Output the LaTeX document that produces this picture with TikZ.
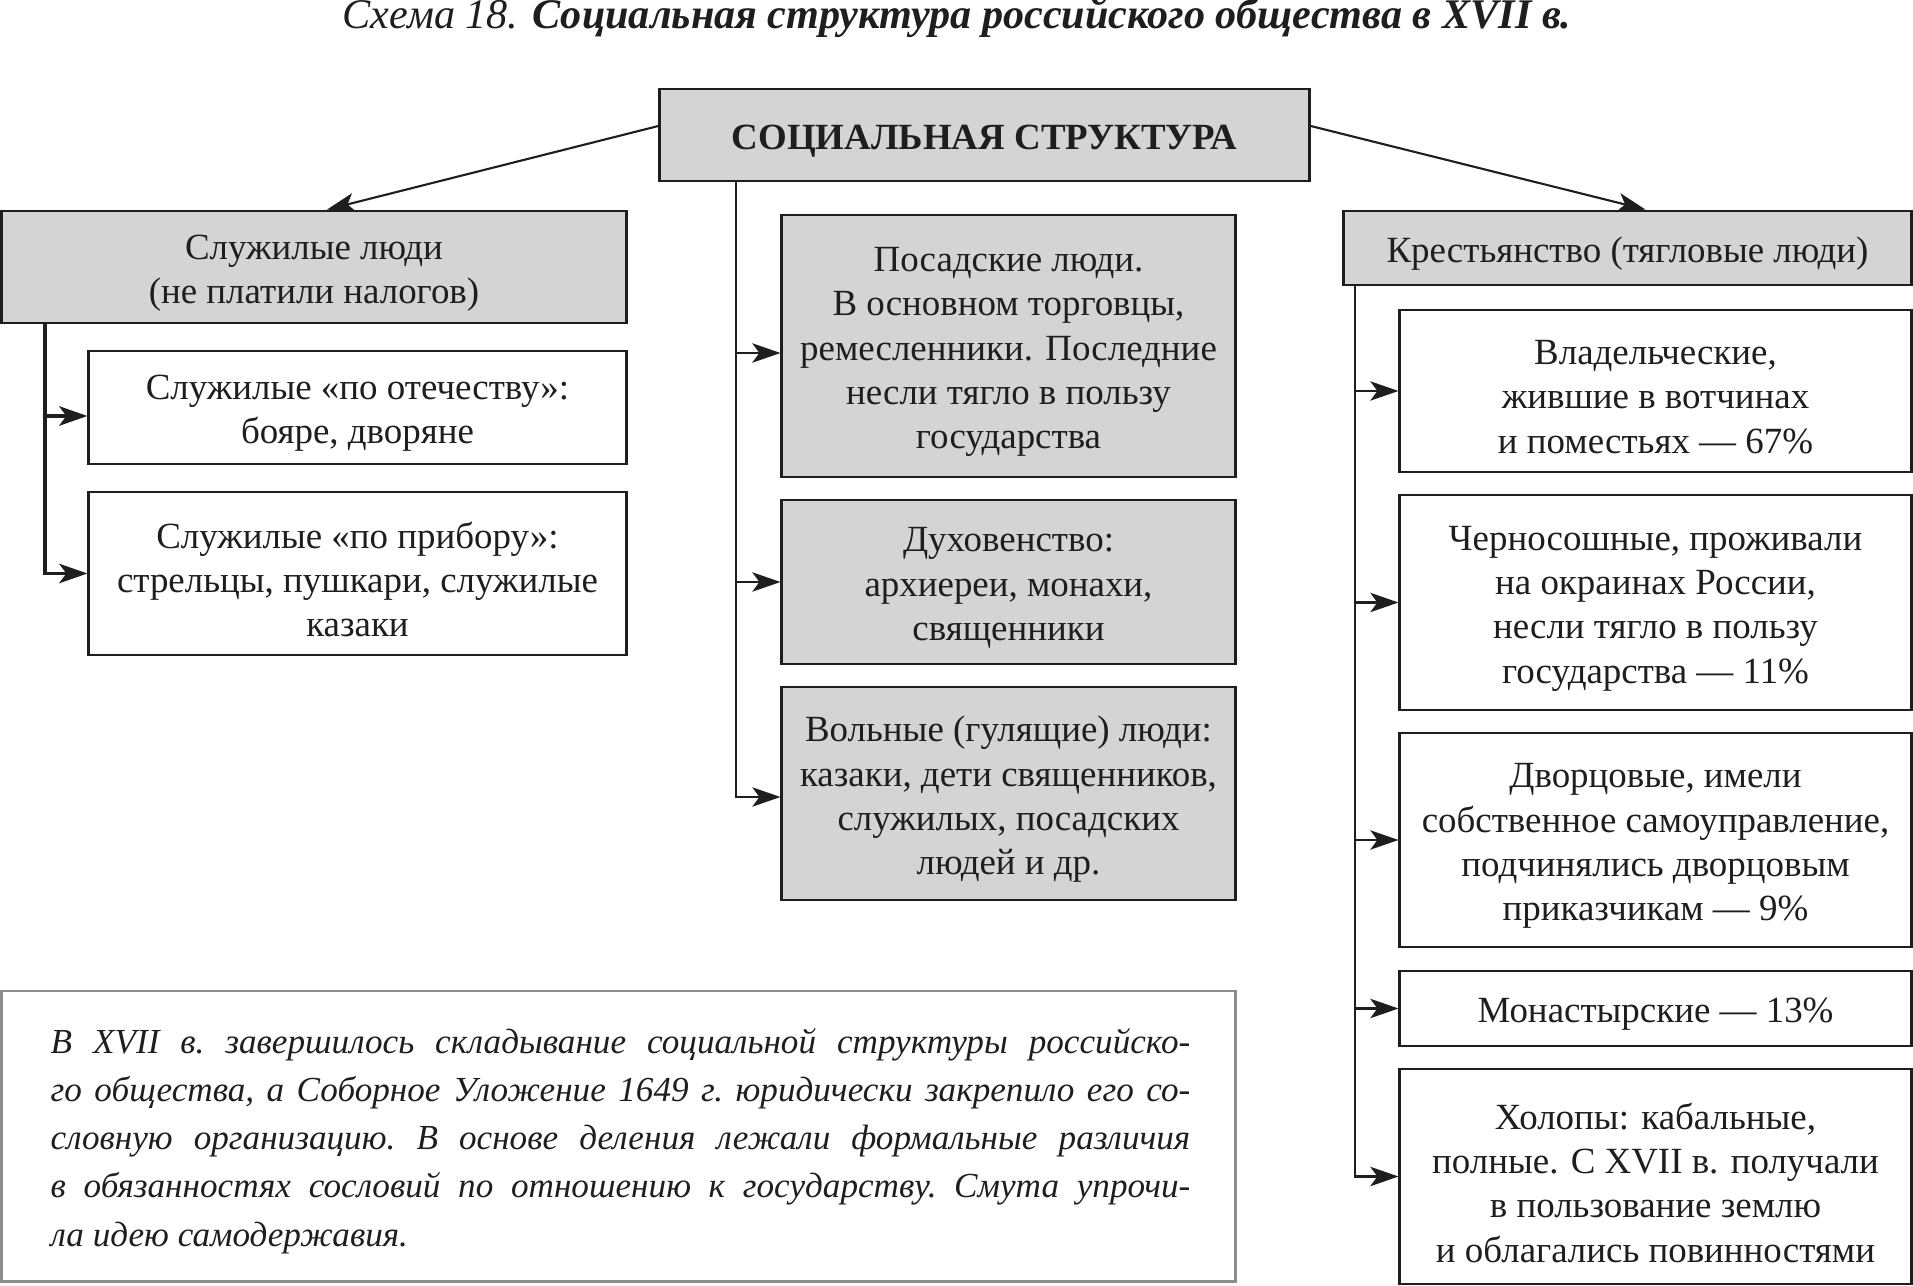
\documentclass[tikz,border=0pt]{standalone}
\usepackage{fontspec}
\setmainfont{Liberation Serif}
\usetikzlibrary{arrows.meta}
\definecolor{boxgray}{RGB}{212,212,212}
\definecolor{ink}{RGB}{30,30,30}
\definecolor{framegray}{RGB}{140,140,140}
\newcommand\boxlabel[2]{\node[txt] (#1t) at ([yshift=-0.06cm]#1.center) {#2};}
\begin{document}
\begin{tikzpicture}[x=0.01cm,y=-0.01cm,
  base/.style={draw=ink, line width=0.8pt, inner sep=0pt},
  graybox/.style={base, fill=boxgray},
  whitebox/.style={base, fill=white},
  txt/.style={text=ink, align=center, inner sep=0pt, font=\fontsize{10.5}{12.6}\selectfont},
  conn/.style={draw=ink, line width=0.6pt},
  arr/.style={conn, -{Stealth[length=8pt,width=5.5pt,inset=2pt]}},
  thickarr/.style={arr, line width=1.1pt}]
\useasboundingbox (0,0) rectangle (1913,1286);

% title
\node[font=\itshape\fontsize{12}{14}\selectfont, text=ink, inner sep=0pt] (title) at (957,18)
  {Схема 18. \textbf{Социальная структура российского общества в XVII~в.}};

% top
\node[graybox, minimum width=6.49cm, minimum height=0.92cm] (top) at (984.5,135) {};
\node[txt, font=\bfseries\fontsize{10.5}{12.6}\selectfont] (topt) at ([yshift=-0.06cm]top.center) {СОЦИАЛЬНАЯ СТРУКТУРА};

% left column
\node[graybox, minimum width=6.24cm, minimum height=1.12cm] (L0) at (314,267) {};
\boxlabel{L0}{Служилые люди\\(не платили налогов)}
\node[whitebox, minimum width=5.37cm, minimum height=1.13cm] (L1) at (357.5,407.5) {};
\boxlabel{L1}{Служилые «по отечеству»:\\бояре, дворяне}
\node[whitebox, minimum width=5.37cm, minimum height=1.63cm] (L2) at (357.5,573.5) {};
\boxlabel{L2}{Служилые «по прибору»:\\стрельцы, пушкари, служилые\\казаки}

% middle column
\node[graybox, minimum width=4.53cm, minimum height=2.62cm] (M1) at (1008.5,346) {};
\boxlabel{M1}{Посадские люди.\\В основном торговцы,\\ремесленники. Последние\\несли тягло в пользу\\государства}
\node[graybox, minimum width=4.53cm, minimum height=1.64cm] (M2) at (1008.5,582) {};
\boxlabel{M2}{Духовенство:\\архиереи, монахи,\\священники}
\node[graybox, minimum width=4.53cm, minimum height=2.13cm] (M3) at (1008.5,793.5) {};
\boxlabel{M3}{Вольные (гулящие) люди:\\казаки, дети священников,\\служилых, посадских\\людей и др.}

% right column
\node[graybox, minimum width=5.67cm, minimum height=0.74cm] (R0) at (1627.5,248) {};
\boxlabel{R0}{Крестьянство (тягловые люди)}
\node[whitebox, minimum width=5.11cm, minimum height=1.62cm] (R1) at (1655.5,391) {};
\boxlabel{R1}{Владельческие,\\жившие в вотчинах\\и поместьях — 67\%}
\node[whitebox, minimum width=5.11cm, minimum height=2.15cm] (R2) at (1655.5,602.5) {};
\boxlabel{R2}{Черносошные, проживали\\на окраинах России,\\несли тягло в пользу\\государства — 11\%}
\node[whitebox, minimum width=5.11cm, minimum height=2.14cm] (R3) at (1655.5,840) {};
\boxlabel{R3}{Дворцовые, имели\\собственное самоуправление,\\подчинялись дворцовым\\приказчикам — 9\%}
\node[whitebox, minimum width=5.11cm, minimum height=0.75cm] (R4) at (1655.5,1008.5) {};
\boxlabel{R4}{Монастырские — 13\%}
\node[whitebox, minimum width=5.11cm, minimum height=2.15cm] (R5) at (1655.5,1176.5) {};
\boxlabel{R5}{Холопы: кабальные,\\полные. С XVII в. получали\\в пользование землю\\и облагались повинностями}

% note box
\node[draw=framegray, line width=0.8pt, minimum width=12.34cm, minimum height=2.90cm, inner sep=0pt]
  (note) at (618.5,1136) {};
\node[text width=11.39cm, font=\itshape\fontsize{10}{13.7}\selectfont, text=ink, inner sep=0pt, align=justify]
  (notetext) at (620.5,1141) {\tolerance=10000\hyphenpenalty=10000\frenchspacing
  В XVII в. завершилось складывание социальной структуры российско-\linebreak
  го общества, а Соборное Уложение 1649 г. юридически закрепило его со-\linebreak
  словную организацию. В основе деления лежали формальные различия\linebreak
  в обязанностях сословий по отношению к государству. Смута упрочи-\linebreak
  ла идею самодержавия.};

% helper x positions of trunks
\coordinate (lx) at (45,0);
\coordinate (mx) at (736,0);
\coordinate (rx) at (1355,0);

% top arrows
\draw[arr] ([yshift=0.09cm]top.west) -- ([xshift=0.13cm]L0.north);
\draw[arr] ([yshift=0.09cm]top.east) -- ([xshift=0.18cm]R0.north);

% left trunk
\coordinate (L1a) at ([yshift=-0.085cm]L1.west);
\draw[thickarr] (L0.south -| lx) |- (L2.west);
\draw[thickarr] (lx |- L1a) -- (L1a);

% middle trunk
\coordinate (M1a) at ([yshift=-0.07cm]M1.west);
\coordinate (M3a) at ([yshift=-0.035cm]M3.west);
\draw[arr] (top.south -| mx) |- (M3a);
\draw[arr] (mx |- M1a) -- (M1a);
\draw[arr] (mx |- M2.west) -- (M2.west);

% right trunk
\draw[arr] (R0.south -| rx) |- (R5.west);
\draw[arr] (rx |- R1.west) -- (R1.west);
\draw[arr] (rx |- R2.west) -- (R2.west);
\draw[arr] (rx |- R3.west) -- (R3.west);
\draw[arr] (rx |- R4.west) -- (R4.west);
\end{tikzpicture}
\end{document}
